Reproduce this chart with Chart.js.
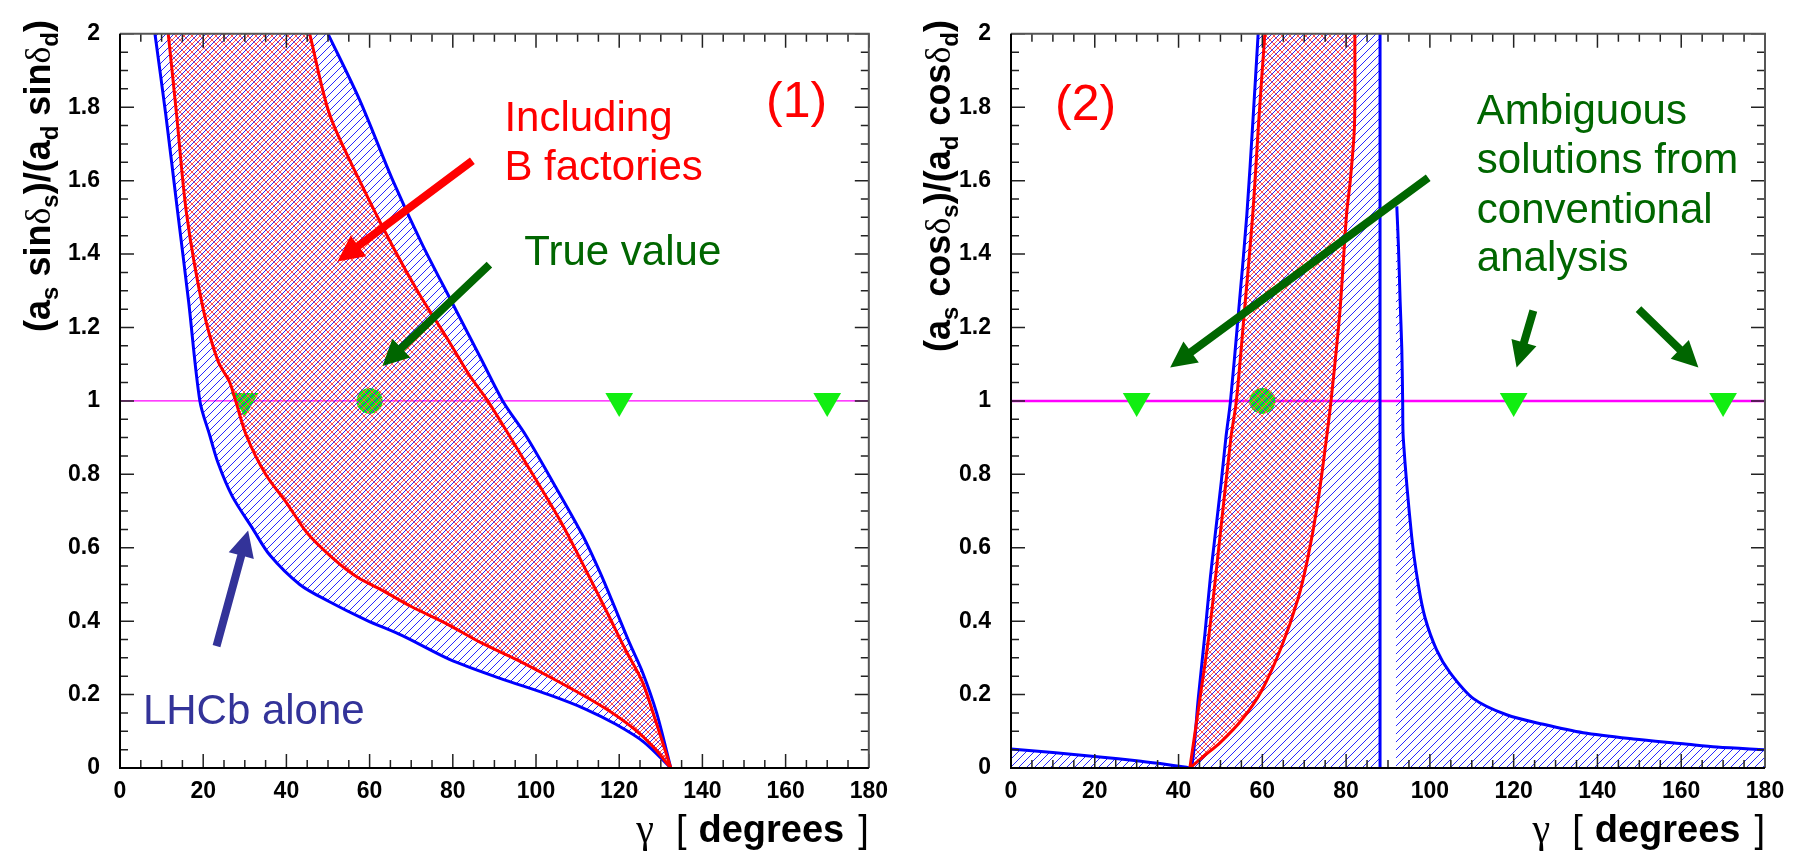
<!DOCTYPE html>
<html><head><meta charset="utf-8">
<script src="https://cdn.jsdelivr.net/npm/chart.js@4.4.1/dist/chart.umd.min.js"></script>
<style>
html,body{margin:0;padding:0;background:#fff;width:1796px;height:854px;overflow:hidden}
canvas{position:absolute;top:0}
#c1{left:0}#c2{left:898px}
</style></head>
<body>
<canvas id="c1" width="898" height="854"></canvas>
<canvas id="c2" width="898" height="854"></canvas>
<script>
// ---------- axis ticks ----------
const xTickValues = [0,20,40,60,80,100,120,140,160,180];
const xTickLabels = ['0','20','40','60','80','100','120','140','160','180'];
const yTickValues = [0,0.2,0.4,0.6,0.8,1,1.2,1.4,1.6,1.8,2];
const yTickLabels = ['0','0.2','0.4','0.6','0.8','1','1.2','1.4','1.6','1.8','2'];

// ---------- panel (1): (a_s sin δs)/(a_d sin δd) vs gamma ----------
const p1BlueLower = [[8.4,2.0],[11.0,1.78],[13.8,1.52],[16.5,1.27],[19.2,1.0],[21.6,0.905],[23.6,0.83],[27,0.74],[31.9,0.652],[36,0.58],[43.2,0.5],[50,0.455],[59.2,0.403],[68,0.36],[79.2,0.296],[91.2,0.245],[103.2,0.199],[112,0.16],[119.2,0.119],[126,0.07],[132.4,0]];
const p1BlueUpper = [[50,2.0],[57.6,1.82],[65.6,1.60],[72.5,1.43],[80,1.264],[87,1.11],[92,1.0],[97.6,0.905],[104,0.78],[111.2,0.634],[115.5,0.53],[119.2,0.43],[122.5,0.34],[125.6,0.261],[129,0.15],[132.4,0]];
const p1RedLower = [[11.6,2.0],[13.6,1.78],[16.0,1.51],[20.0,1.25],[23.5,1.11],[26.4,1.05],[27.8,1.0],[30.4,0.905],[35,0.8],[40,0.723],[45,0.64],[51.2,0.571],[57,0.52],[63.2,0.483],[70,0.44],[79,0.39],[87,0.34],[95.2,0.296],[103,0.25],[111.2,0.199],[117,0.16],[123.2,0.11],[128,0.06],[132.4,0]];
const p1RedUpper = [[45.6,2.0],[50.4,1.78],[57.6,1.60],[65.6,1.42],[72,1.29],[79.2,1.16],[84,1.07],[88.4,1.0],[93.6,0.905],[97.6,0.83],[105.6,0.678],[111.5,0.55],[117.6,0.412],[121.6,0.32],[125.6,0.234],[129,0.12],[132.4,0]];

// ---------- panel (2): (a_s cos δs)/(a_d cos δd) vs gamma ----------
const p2BlueFloor = [[0,0.052],[10,0.042],[21.2,0.03],[30,0.02],[35.6,0.012],[41.9,0.002],[43.1,0]];
const p2BlueLeft = [[43.1,0],[44.7,0.189],[46.3,0.366],[47.6,0.52],[48.7,0.631],[50.2,0.78],[51.3,0.9],[52.4,1.0],[54.3,1.24],[56.3,1.507],[57.8,1.772],[59.0,2.0]];
const p2BlueCut = [[88.1,0],[88.1,2]];
const p2BlueTail = [[92.1,1.53],[92.5,1.42],[92.9,1.27],[93.3,1.14],[93.5,1.0],[93.65,0.897],[95.65,0.631],[97.24,0.499],[98.83,0.41],[101.6,0.322],[104.8,0.26],[110.4,0.189],[118.3,0.145],[127.1,0.119],[136.6,0.096],[148.6,0.079],[160.5,0.066],[168.5,0.057],[180,0.05]];
const p2RedLeft = [[42.7,0],[45.1,0.189],[47.3,0.366],[49.9,0.631],[52.5,0.9],[53.8,1.0],[55.7,1.241],[57.7,1.507],[59.2,1.772],[60.6,2.0]];
const p2RedRight = [[42.7,0],[46,0.032],[50,0.07],[55,0.13],[59.8,0.21],[64.6,0.331],[68.5,0.46],[70.8,0.569],[73.2,0.72],[75.3,0.897],[76.4,1.0],[78.5,1.241],[80.1,1.507],[81.0,1.6],[82.0,1.75],[82.1,2.0]];

// ---------- markers ----------
const refLine = [[0,1],[180,1]];
const trueValue = [[60,1]];
const ambiguousSolutions = [[30,1],[120,1],[170,1]];

// ---------- helpers ----------
const SANS = '"Liberation Sans", Arial, sans-serif';
const SERIF = '"Liberation Serif", "DejaVu Serif", serif';
const TENSION = 0.3;
const pts = a => a.map(([x,y]) => ({x, y}));
const rev = a => a.slice().reverse();
const corner = p => [p, p]; // doubled point keeps a sharp corner in a smoothed outline

function hatch(ctx, color, dirs, size, offset) {
  const c = document.createElement('canvas'); c.width = c.height = size;
  const g = c.getContext('2d'); g.strokeStyle = color; g.lineWidth = 1;
  g.beginPath();
  for (const o of [-size, 0, size]) {
    if (dirs.includes('/')) { g.moveTo(o + offset - 1, size + 1); g.lineTo(o + offset + size + 1, -1); }
    if (dirs.includes('\\')) { g.moveTo(o + offset - 1, -1); g.lineTo(o + offset + size + 1, size + 1); }
  }
  g.stroke();
  return ctx.createPattern(c, 'repeat');
}

function drawArrow(ctx, x1, y1, x2, y2, w, hl, hw, color) {
  const ang = Math.atan2(y2 - y1, x2 - x1), len = Math.hypot(x2 - x1, y2 - y1);
  ctx.save(); ctx.translate(x1, y1); ctx.rotate(ang); ctx.fillStyle = color;
  ctx.beginPath();
  ctx.moveTo(0, -w / 2); ctx.lineTo(len - hl, -w / 2); ctx.lineTo(len - hl, -hw / 2);
  ctx.lineTo(len, 0); ctx.lineTo(len - hl, hw / 2); ctx.lineTo(len - hl, w / 2); ctx.lineTo(0, w / 2);
  ctx.closePath(); ctx.fill(); ctx.restore();
}

const decor = {
  id: 'decor',
  afterDatasetsDraw(chart, args, o) {
    const ctx = chart.ctx, {left, right, top, bottom} = chart.chartArea;
    const xs = chart.scales.x, ys = chart.scales.y;
    // inside ticks
    ctx.save(); ctx.strokeStyle = '#222'; ctx.lineWidth = 1.5; ctx.beginPath();
    for (let v = 0; v <= 180; v += 5) {
      const p = xs.getPixelForValue(v), L = (v % 20 === 0) ? 14 : 8;
      ctx.moveTo(p, bottom); ctx.lineTo(p, bottom - L);
      ctx.moveTo(p, top); ctx.lineTo(p, top + L);
    }
    for (let i = 0; i <= 40; i++) {
      const p = ys.getPixelForValue(i * 0.05), L = (i % 4 === 0) ? 14 : 8;
      ctx.moveTo(left, p); ctx.lineTo(left + L, p);
      ctx.moveTo(right, p); ctx.lineTo(right - L, p);
    }
    ctx.stroke();
    // frame
    ctx.lineWidth = 2;
    ctx.strokeStyle = '#555'; ctx.beginPath(); ctx.moveTo(left, top); ctx.lineTo(right, top); ctx.lineTo(right, bottom); ctx.stroke();
    ctx.strokeStyle = '#000'; ctx.beginPath(); ctx.moveTo(left, top); ctx.lineTo(left, bottom); ctx.lineTo(right, bottom); ctx.stroke();
    ctx.restore();
    // arrows
    for (const a of o.arrows) {
      drawArrow(ctx, xs.getPixelForValue(a.x1), ys.getPixelForValue(a.y1), xs.getPixelForValue(a.x2), ys.getPixelForValue(a.y2), 8, 26, 26, a.color);
    }
    // texts
    ctx.save();
    for (const t of o.texts) {
      ctx.font = t.size + 'px ' + SANS; ctx.fillStyle = t.color;
      ctx.textAlign = 'left'; ctx.textBaseline = t.base || 'alphabetic';
      ctx.fillText(t.t, xs.getPixelForValue(t.x), ys.getPixelForValue(t.y));
    }
    ctx.restore();
    // y title (rotated, top aligned, with subscripts)
    ctx.save(); ctx.fillStyle = '#000'; ctx.textBaseline = 'alphabetic'; ctx.textAlign = 'left';
    let total = 0;
    for (const p of o.yTitle) { ctx.font = p.f; total += ctx.measureText(p.t).width; }
    ctx.translate(o.yTitleX, o.yTitleTop + total); ctx.rotate(-Math.PI / 2);
    let cx = 0;
    for (const p of o.yTitle) { ctx.font = p.f; ctx.fillText(p.t, cx, p.dy || 0); cx += ctx.measureText(p.t).width; }
    ctx.restore();
    // x title
    ctx.save(); ctx.fillStyle = '#000'; ctx.textBaseline = 'alphabetic'; ctx.textAlign = 'left';
    const xt = [
      {t: 'γ', f: '40px ' + SERIF, g: 22},
      {t: '[', f: '38px ' + SANS, g: 12},
      {t: 'degrees', f: 'bold 38px ' + SANS, g: 14},
      {t: ']', f: '38px ' + SANS, g: 0}
    ];
    let tw = 0;
    for (const p of xt) { ctx.font = p.f; tw += ctx.measureText(p.t).width + p.g; }
    let xx = right - tw;
    for (const p of xt) { ctx.font = p.f; ctx.fillText(p.t, xx, bottom + 74); xx += ctx.measureText(p.t).width + p.g; }
    ctx.restore();
  }
};

function yTitleParts(fn) {
  const B = 'bold 36px ' + SANS, S = 'bold 24px ' + SANS, G = '36px ' + SERIF;
  return [
    {t: '(a', f: B}, {t: 's', f: S, dy: 8}, {t: ' ' + fn, f: B}, {t: 'δ', f: G}, {t: 's', f: S, dy: 8},
    {t: ')/(a', f: B}, {t: 'd', f: S, dy: 8}, {t: ' ' + fn, f: B}, {t: 'δ', f: G}, {t: 'd', f: S, dy: 8},
    {t: ')', f: B}
  ];
}

function lineDs(data, color, width, order) {
  return {data: pts(data), borderColor: color, borderWidth: width, pointRadius: 0, fill: false, tension: TENSION, order};
}
function fillDs(data, pattern, order) {
  return {data: pts(data), backgroundColor: pattern, borderColor: 'rgba(0,0,0,0)', borderWidth: 0, pointRadius: 0, fill: 'shape', tension: TENSION, order};
}
function markerDs(magentaWidth) {
  return [
    {data: pts(refLine), borderColor: '#ff00ff', borderWidth: magentaWidth, pointRadius: 0, fill: false, order: 20},
    {data: pts(ambiguousSolutions), showLine: false, pointStyle: 'triangle', rotation: 180, pointRadius: 16,
     pointBackgroundColor: '#11ee11', pointBorderWidth: 0, pointBorderColor: 'rgba(0,0,0,0)', order: 19},
    {data: pts(trueValue), showLine: false, pointStyle: 'circle', pointRadius: 13,
     pointBackgroundColor: '#11ee11', pointBorderWidth: 0, pointBorderColor: 'rgba(0,0,0,0)', order: 19}
  ];
}

function makeChart(id, spec) {
  const ctx = document.getElementById(id).getContext('2d');
  const blue = hatch(ctx, '#2828ff', '/', 8, 0);
  const red = hatch(ctx, '#ff5050', '/\\', 8, 4);
  const tickFont = {family: 'Liberation Sans', size: 23, weight: 'bold'};
  return new Chart(ctx, {
    type: 'line',
    data: {datasets: spec.datasets(blue, red)},
    options: {
      responsive: false, animation: false, devicePixelRatio: 1, events: [],
      layout: {padding: spec.padding},
      plugins: {legend: {display: false}, tooltip: {enabled: false}, decor: spec.decor},
      scales: {
        x: {type: 'linear', min: 0, max: 180,
            afterBuildTicks: s => { s.ticks = xTickValues.map(v => ({value: v})); },
            afterFit: s => { s.height = 86; },
            ticks: {autoSkip: false, maxRotation: 0, color: '#000', font: tickFont, padding: 10, callback: (v, i) => xTickLabels[i]},
            grid: {display: false, drawTicks: false}, border: {display: false}},
        y: {type: 'linear', min: 0, max: 2,
            afterBuildTicks: s => { s.ticks = yTickValues.map(v => ({value: v})); },
            afterFit: s => { s.width = spec.yWidth; },
            ticks: {autoSkip: false, color: '#000', font: tickFont, padding: 20, callback: (v, i) => yTickLabels[i]},
            grid: {display: false, drawTicks: false}, border: {display: false}}
      }
    },
    plugins: [decor]
  });
}

const GREEN = '#006600', RED = '#ff0000', NAVY = '#333399', BLUE = '#0000ff';

makeChart('c1', {
  padding: {top: 17, right: 28, left: 0, bottom: 0},
  yWidth: 120,
  datasets: (blue, red) => [
    ...markerDs(1.2),
    fillDs([...p1BlueLower, ...rev(p1BlueUpper)], blue, 8),
    fillDs([...p1RedLower, ...rev(p1RedUpper)], red, 7),
    lineDs(p1BlueLower, BLUE, 3, 6), lineDs(p1BlueUpper, BLUE, 3, 6),
    lineDs(p1RedLower, RED, 3, 5), lineDs(p1RedUpper, RED, 3, 5)
  ],
  decor: {
    yTitle: yTitleParts('sin'), yTitleX: 50, yTitleTop: 20,
    texts: [
      {t: '(1)', x: 155.3, y: 1.811, color: RED, size: 50, base: 'middle'},
      {t: 'Including', x: 92.4, y: 1.734, color: RED, size: 42},
      {t: 'B factories', x: 92.4, y: 1.601, color: RED, size: 42},
      {t: 'True value', x: 97.2, y: 1.371, color: GREEN, size: 42},
      {t: 'LHCb alone', x: 5.5, y: 0.120, color: NAVY, size: 42}
    ],
    arrows: [
      {x1: 84.7, y1: 1.654, x2: 52.3, y2: 1.380, color: RED},
      {x1: 88.8, y1: 1.371, x2: 63.1, y2: 1.095, color: GREEN},
      {x1: 23.2, y1: 0.332, x2: 30.8, y2: 0.647, color: NAVY}
    ]
  }
});

makeChart('c2', {
  padding: {top: 14, right: 31, left: 0, bottom: 0},
  yWidth: 113,
  datasets: (blue, red) => [
    ...markerDs(2.5),
    fillDs([...p2BlueFloor.slice(0, -1), ...corner([43.1, 0]), [0, 0]], blue, 8),
    fillDs([...p2BlueLeft.slice(0, -1), ...corner([59.0, 2]), ...corner([88.1, 2]), [88.1, 0]], blue, 8),
    fillDs([[91.9, 0], ...corner([91.9, 1.53]), ...p2BlueTail.slice(0, -1), ...corner([180, 0.05]), [180, 0]], blue, 8),
    fillDs([...p2RedLeft.slice(0, -1), ...corner([60.6, 2.0]), ...corner([82.1, 2.0]), ...rev(p2RedRight).slice(1)], red, 7),
    lineDs([...p2BlueFloor, ...p2BlueLeft.slice(1)], BLUE, 3, 6),
    lineDs(p2BlueCut, BLUE, 3, 6),
    lineDs(p2BlueTail, BLUE, 3, 6),
    lineDs(p2RedLeft, RED, 3, 5), lineDs(p2RedRight, RED, 3, 5)
  ],
  decor: {
    yTitle: yTitleParts('cos'), yTitleX: 52, yTitleTop: 20,
    texts: [
      {t: '(2)', x: 10.5, y: 1.804, color: RED, size: 50, base: 'middle'},
      {t: 'Ambiguous', x: 111.2, y: 1.753, color: GREEN, size: 42},
      {t: 'solutions from', x: 111.2, y: 1.621, color: GREEN, size: 42},
      {t: 'conventional', x: 111.2, y: 1.485, color: GREEN, size: 42},
      {t: 'analysis', x: 111.2, y: 1.353, color: GREEN, size: 42}
    ],
    arrows: [
      {x1: 99.6, y1: 1.608, x2: 38.0, y2: 1.091, color: GREEN},
      {x1: 124.7, y1: 1.246, x2: 120.7, y2: 1.091, color: GREEN},
      {x1: 149.8, y1: 1.250, x2: 164.1, y2: 1.091, color: GREEN}
    ]
  }
});
</script>
</body></html>
